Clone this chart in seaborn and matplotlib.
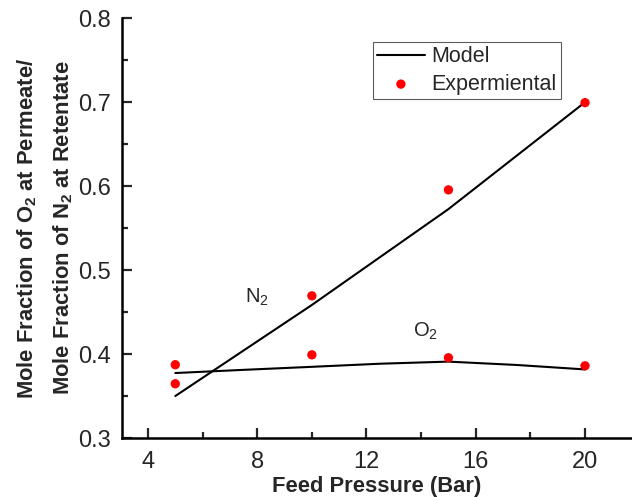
import pandas as pd
import seaborn as sns
import matplotlib.pyplot as plt
from matplotlib.ticker import MultipleLocator

# values
pressure = [5, 10, 15, 20]
n2_model = [0.350, 0.4585, 0.5727, 0.700]
n2_exp = [0.3646, 0.4694, 0.5956, 0.6995]

o2_model_pressure = [5, 7.5, 10, 12.5, 15, 17.5, 20]
o2_model = [0.3774, 0.3812, 0.3848, 0.3885, 0.3910, 0.3870, 0.3817]
o2_exp = [0.3873, 0.3991, 0.3956, 0.3860]

sns.set_style("white")
plt.rcParams["font.family"] = ["Liberation Sans", "DejaVu Sans"]
plt.rcParams["mathtext.fontset"] = "custom"
plt.rcParams["mathtext.rm"] = "Liberation Sans"
plt.rcParams["mathtext.bf"] = "Liberation Sans:bold"

fig = plt.figure(figsize=(6.32, 4.97), dpi=100)
ax = fig.add_axes([0.193, 0.1187, 0.807, 0.8445])

n2_df = pd.DataFrame({"p": pressure, "model": n2_model, "exp": n2_exp})
o2_model_df = pd.DataFrame({"p": o2_model_pressure, "model": o2_model})
o2_exp_df = pd.DataFrame({"p": pressure, "exp": o2_exp})

sns.lineplot(data=n2_df, x="p", y="model", ax=ax, color="black", lw=1.5, label="Model")
sns.lineplot(data=o2_model_df, x="p", y="model", ax=ax, color="black", lw=1.5)
sns.scatterplot(data=n2_df, x="p", y="exp", ax=ax, color="red", s=45, edgecolor="none",
                label="Expermiental", zorder=3)
sns.scatterplot(data=o2_exp_df, x="p", y="exp", ax=ax, color="red", s=45, edgecolor="none", zorder=3)

# curve labels
ax.text(7.55, 0.461, "N$_2$", fontsize=14.5, va="baseline")
ax.text(13.7, 0.4206, "O$_2$", fontsize=14.5, va="baseline")

ax.set_xlim(3.048, 21.72)
ax.set_ylim(0.3, 0.8)
ax.xaxis.set_major_locator(MultipleLocator(4))
ax.xaxis.set_minor_locator(MultipleLocator(2))
ax.yaxis.set_major_locator(MultipleLocator(0.1))
ax.yaxis.set_minor_locator(MultipleLocator(0.05))
ax.tick_params(which="major", direction="in", length=7, width=1.6, labelsize=17)
ax.tick_params(which="minor", direction="in", length=4, width=1.6)
ax.tick_params(axis="x", which="both", bottom=True, pad=9.5)
ax.tick_params(axis="y", which="both", left=True, pad=8)

for side in ["top", "right"]:
    ax.spines[side].set_visible(False)
for side in ["left", "bottom"]:
    ax.spines[side].set_linewidth(1.8)
    ax.spines[side].set_color("black")

ax.set_xlabel("Feed Pressure (Bar)", fontsize=15.8, fontweight="bold", labelpad=2)
ax.set_ylabel("Mole Fraction of O$_\\mathbf{2}$ at Permeate/\nMole Fraction of N$_\\mathbf{2}$ at Retentate",
              fontsize=15.8, fontweight="bold", labelpad=2, linespacing=1.7)

leg = ax.legend(loc="upper left", bbox_to_anchor=(0.492, 0.9435), fontsize=15.5, frameon=True,
                fancybox=False, edgecolor="#333333", borderpad=0.2, handlelength=2.2,
                handletextpad=0.3, labelspacing=0.3, borderaxespad=0)
leg.get_frame().set_linewidth(0.8)

fig.savefig("out.png", dpi=100)
